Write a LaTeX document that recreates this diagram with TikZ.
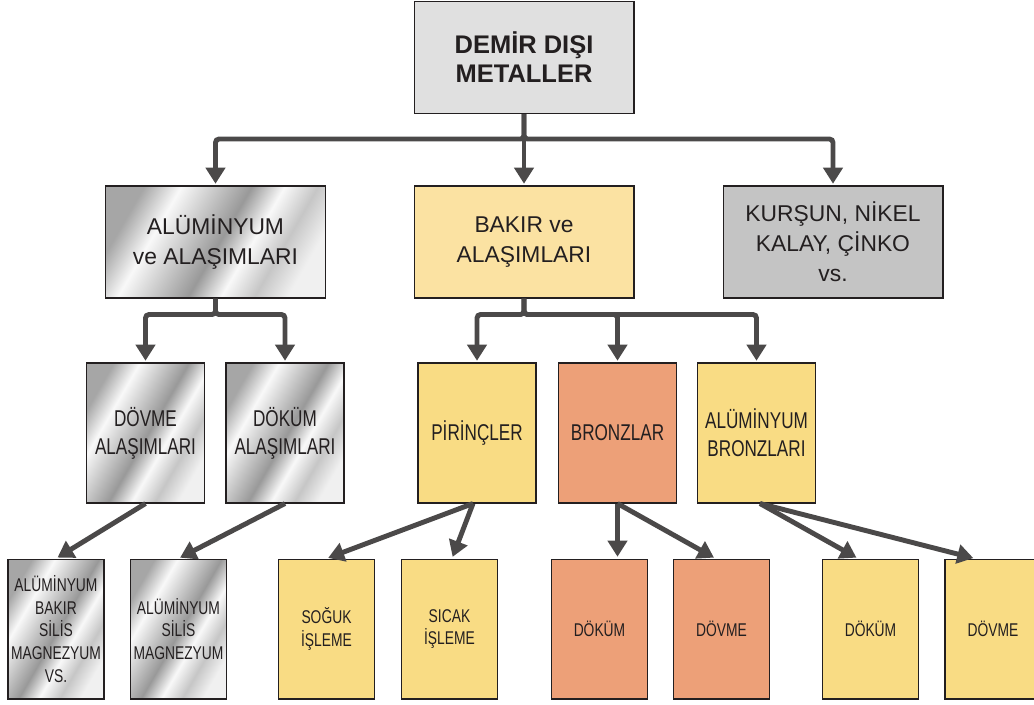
\documentclass[tikz,border=0pt]{standalone}
\usepackage{fontspec}
\setmainfont{Liberation Sans}
\newfontfamily\condfont[FakeStretch=0.75]{Liberation Sans}
\usetikzlibrary{arrows.meta}

\definecolor{linegray}{HTML}{4B4949}
\definecolor{textdark}{HTML}{231F20}
\definecolor{topgray}{HTML}{E0E0E0}
\definecolor{leadgray}{HTML}{C4C4C4}
\definecolor{copperpale}{HTML}{FBE2A2}
\definecolor{brassyellow}{HTML}{F9DC84}
\definecolor{bronzesalmon}{HTML}{EDA078}
\definecolor{metalA}{HTML}{A6A6A6}
\definecolor{metalB}{HTML}{C6C6C6}
\definecolor{metalC}{HTML}{999999}

\pgfdeclarehorizontalshading{metal}{100bp}{color(0bp)=(metalA); color(25bp)=(metalA);
  color(34bp)=(white!95!gray); color(43bp)=(metalB); color(51bp)=(metalC); color(59bp)=(white!95!gray);
  color(67bp)=(metalB); color(75bp)=(white!88!gray); color(100bp)=(white!88!gray)}

\tikzset{
  box/.style={draw=textdark, line width=0.6pt, align=center, inner sep=0pt, text=textdark},
  bigbox/.style={box, minimum width=4.4cm, minimum height=2.24cm,
    font=\fontsize{13}{17}\selectfont},
  midbox/.style={box, minimum width=2.36cm, minimum height=2.8cm,
    font=\condfont\fontsize{13}{16}\selectfont},
  smallbox/.style={box, minimum width=1.92cm, minimum height=2.8cm,
    font=\condfont\fontsize{10.5}{13}\selectfont},
  metal/.style={shading=metal, shading angle=-30},
  arr/.style={draw=linegray, line width=2.8pt, rounded corners=2pt,
    -{Triangle[length=0.32cm, width=0.38cm]}, shorten >=1pt}
}

\begin{document}
\begin{tikzpicture}[x=0.02cm, y=-0.02cm]
    \useasboundingbox (0,0) rectangle (1034,704);

    % Level 1
    \node[bigbox, fill=topgray, font=\bfseries\fontsize{14.5}{16.5}\selectfont]
        (demirdisi) at (524,57.5) {DEMİR DIŞI\\METALLER};

    % Level 2
    \node[bigbox, metal] (aluminyum) at (215.5,242) {ALÜMİNYUM\\ve ALAŞIMLARI};
    \node[bigbox, fill=copperpale] (bakir) at (524,242) {BAKIR ve\\ALAŞIMLARI};
    \node[bigbox, fill=leadgray] (kursun) at (833,242) {KURŞUN, NİKEL\\KALAY, ÇİNKO\\vs.};

    % Level 3
    \node[midbox, metal] (dovmeal) at (145.5,433) {DÖVME\\ALAŞIMLARI};
    \node[midbox, metal] (dokumal) at (285,433) {DÖKÜM\\ALAŞIMLARI};
    \node[midbox, fill=brassyellow] (pirinc) at (477,433) {PİRİNÇLER};
    \node[midbox, fill=bronzesalmon] (bronz) at (617.5,433) {BRONZLAR};
    \node[midbox, fill=brassyellow] (alubronz) at (756.5,433) {ALÜMİNYUM\\BRONZLARI};

    % Level 4
    \node[smallbox, metal] (albakir) at (56,629) {ALÜMİNYUM\\BAKIR\\SİLİS\\MAGNEZYUM\\VS.};
    \node[smallbox, metal] (alsilis) at (178.5,629) {ALÜMİNYUM\\SİLİS\\MAGNEZYUM};
    \node[smallbox, fill=brassyellow] (soguk) at (326.5,629) {SOĞUK\\İŞLEME};
    \node[smallbox, fill=brassyellow] (sicak) at (449.5,629) {SICAK\\İŞLEME};
    \node[smallbox, fill=bronzesalmon] (bdokum) at (599.5,629) {DÖKÜM};
    \node[smallbox, fill=bronzesalmon] (bdovme) at (721.5,629) {DÖVME};
    \node[smallbox, fill=brassyellow] (adokum) at (870.5,629) {DÖKÜM};
    \node[smallbox, fill=brassyellow] (adovme) at (993,629) {DÖVME};

    % Tree connectors
    \foreach \child in {aluminyum, bakir, kursun}
        \draw[arr] (demirdisi.south) -- ++(0,25) -| (\child.north);
    \foreach \child in {dovmeal, dokumal}
        \draw[arr] (aluminyum.south) -- ++(0,16) -| (\child.north);
    \foreach \child in {pirinc, bronz, alubronz}
        \draw[arr] (bakir.south) -- ++(0,16) -| (\child.north);

    % Slanted connectors
    \draw[arr] (dovmeal.south) -- (albakir.north);
    \draw[arr] (dokumal.south) -- (alsilis.north);
    \draw[arr] ([xshift=-0.08cm]pirinc.south) -- (soguk.north);
    \draw[arr] ([xshift=-0.08cm]pirinc.south) -- ([xshift=0.05cm]sicak.north);
    \draw[arr] (bronz.south) -- (bronz.south |- bdokum.north);
    \draw[arr] (bronz.south) -- ([xshift=-0.12cm]bdovme.north);
    \draw[arr] ([xshift=0.07cm]alubronz.south) -- ([xshift=-0.25cm]adokum.north);
    \draw[arr] ([xshift=0.07cm]alubronz.south) -- ([xshift=-0.36cm]adovme.north);
\end{tikzpicture}
\end{document}
